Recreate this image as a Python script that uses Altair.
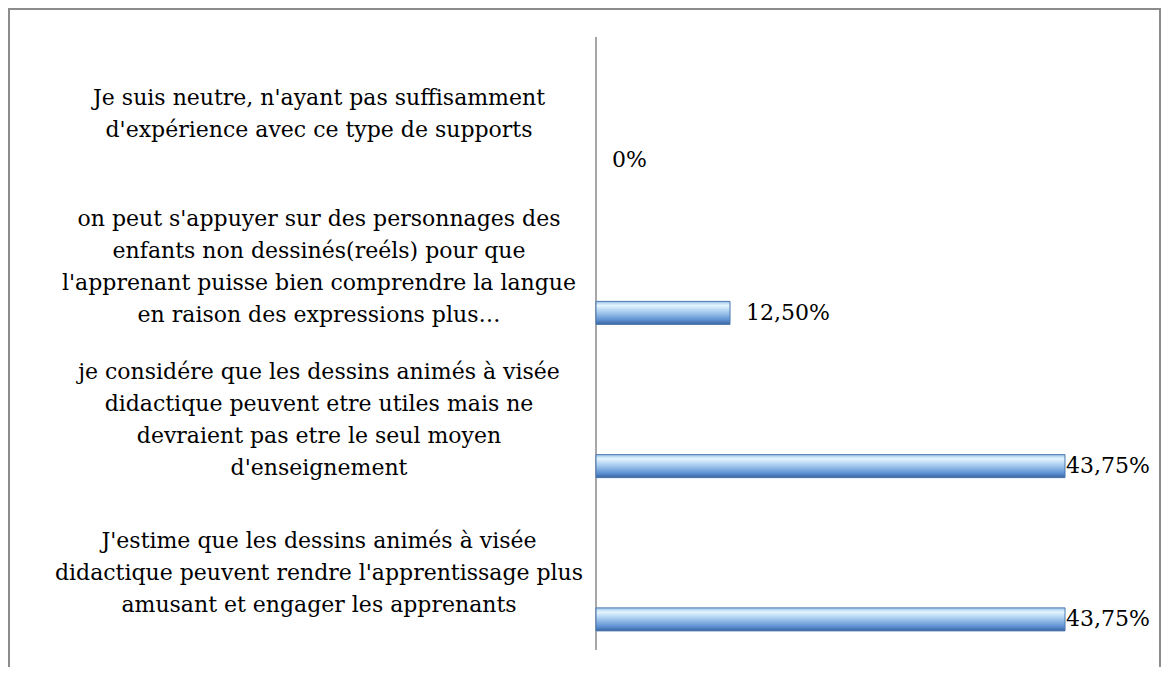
import altair as alt
import pandas as pd

categories = [
    "Je suis neutre, n'ayant pas suffisamment\nd'expérience avec ce type de supports",
    "on peut s'appuyer sur des personnages des\nenfants non dessinés(reéls) pour que\nl'apprenant puisse bien comprendre la langue\nen raison des expressions plus…",
    "je considére que les dessins animés à visée\ndidactique peuvent etre utiles mais ne\ndevraient pas etre le seul moyen\nd'enseignement",
    "J'estime que les dessins animés à visée\ndidactique peuvent rendre l'apprentissage plus\namusant et engager les apprenants",
]
values = [0, 12.5, 43.75, 43.75]
value_labels = ["0%", "12,50%", "43,75%", "43,75%"]

df = pd.DataFrame({"cat": categories, "val": values, "lab": value_labels})

W, H = 1153, 659
FONT = "DejaVu Serif"
LINE_H = 32
Y0, Y1 = 29, 642
HALF_BAND = (Y1 - Y0) / len(categories) / 2

yscale = alt.Scale(domain=categories, range=[Y0, Y1], paddingInner=0, paddingOuter=0)
xscale = alt.Scale(domain=[0, 43.75], range=[588, 1057], nice=False, zero=False)

base = alt.Chart(df)

grad = alt.Gradient(
    gradient="linear",
    x1=0, x2=0, y1=0, y2=1,
    stops=[
        alt.GradientStop(offset=0, color="#9cc3ea"),
        alt.GradientStop(offset=0.18, color="#e4f5fd"),
        alt.GradientStop(offset=0.45, color="#a9cdf0"),
        alt.GradientStop(offset=0.8, color="#5f93d3"),
        alt.GradientStop(offset=1, color="#3a64a0"),
    ],
)

Y = alt.Y("cat:N", scale=yscale, axis=None, sort=categories)
X = alt.X("val:Q", scale=xscale, axis=None)

bars = base.transform_filter("datum.val > 0").mark_bar(
    size=23, yOffset=46, color=grad, stroke="#4a78b0", strokeWidth=1
).encode(x=X, y=Y)

lab_small = base.transform_filter("datum.val < 40").mark_text(
    align="left", baseline="middle", dx=16, yOffset=46, font=FONT, fontSize=22, color="black"
).encode(x=X, y=Y, text="lab:N")

lab_big = base.transform_filter("datum.val >= 40").mark_text(
    align="left", baseline="middle", dx=1, yOffset=46, font=FONT, fontSize=22, color="black"
).encode(x=X, y=Y, text="lab:N")

cat_text = base.transform_calculate(
    off=f"{HALF_BAND} - (split(datum.cat, '\\n').length - 1) * {LINE_H} / 2"
).mark_text(
    align="center", baseline="middle", lineBreak="\n", lineHeight=LINE_H,
    font=FONT, fontSize=22, color="black"
).encode(
    x=alt.value(311),
    y=Y,
    yOffset=alt.YOffset("off:Q", scale=None),
    text="cat:N",
)

axis_line = alt.Chart(pd.DataFrame({"v": [0]})).mark_rule(color="#8a8a8a", strokeWidth=1.5).encode(
    x=alt.X("v:Q", scale=xscale, axis=None),
    y=alt.value(Y0),
    y2=alt.value(Y1),
)

border = alt.Chart(pd.DataFrame({"side": ["top", "left", "right"],
                                 "x1": [0, 1, W - 1], "x2": [W, 1, W - 1],
                                 "y1": [1, 0, 0], "y2": [1, H, H]})).mark_rule(
    color="#8c8c8c", strokeWidth=2
).encode(
    x=alt.X("x1:Q", scale=alt.Scale(domain=[0, W], range=[0, W]), axis=None),
    x2="x2:Q",
    y=alt.Y("y1:Q", scale=alt.Scale(domain=[0, H], range=[0, H]), axis=None),
    y2="y2:Q",
)

chart = alt.layer(border, axis_line, bars, lab_small, lab_big, cat_text).resolve_scale(
    x="independent", y="independent"
).properties(
    width=W, height=H, padding=0, autosize=alt.AutoSizeParams(type="none"), background="white"
).configure_view(stroke=None)

chart.save("out.html", embed_options={"renderer": "svg", "actions": False})
